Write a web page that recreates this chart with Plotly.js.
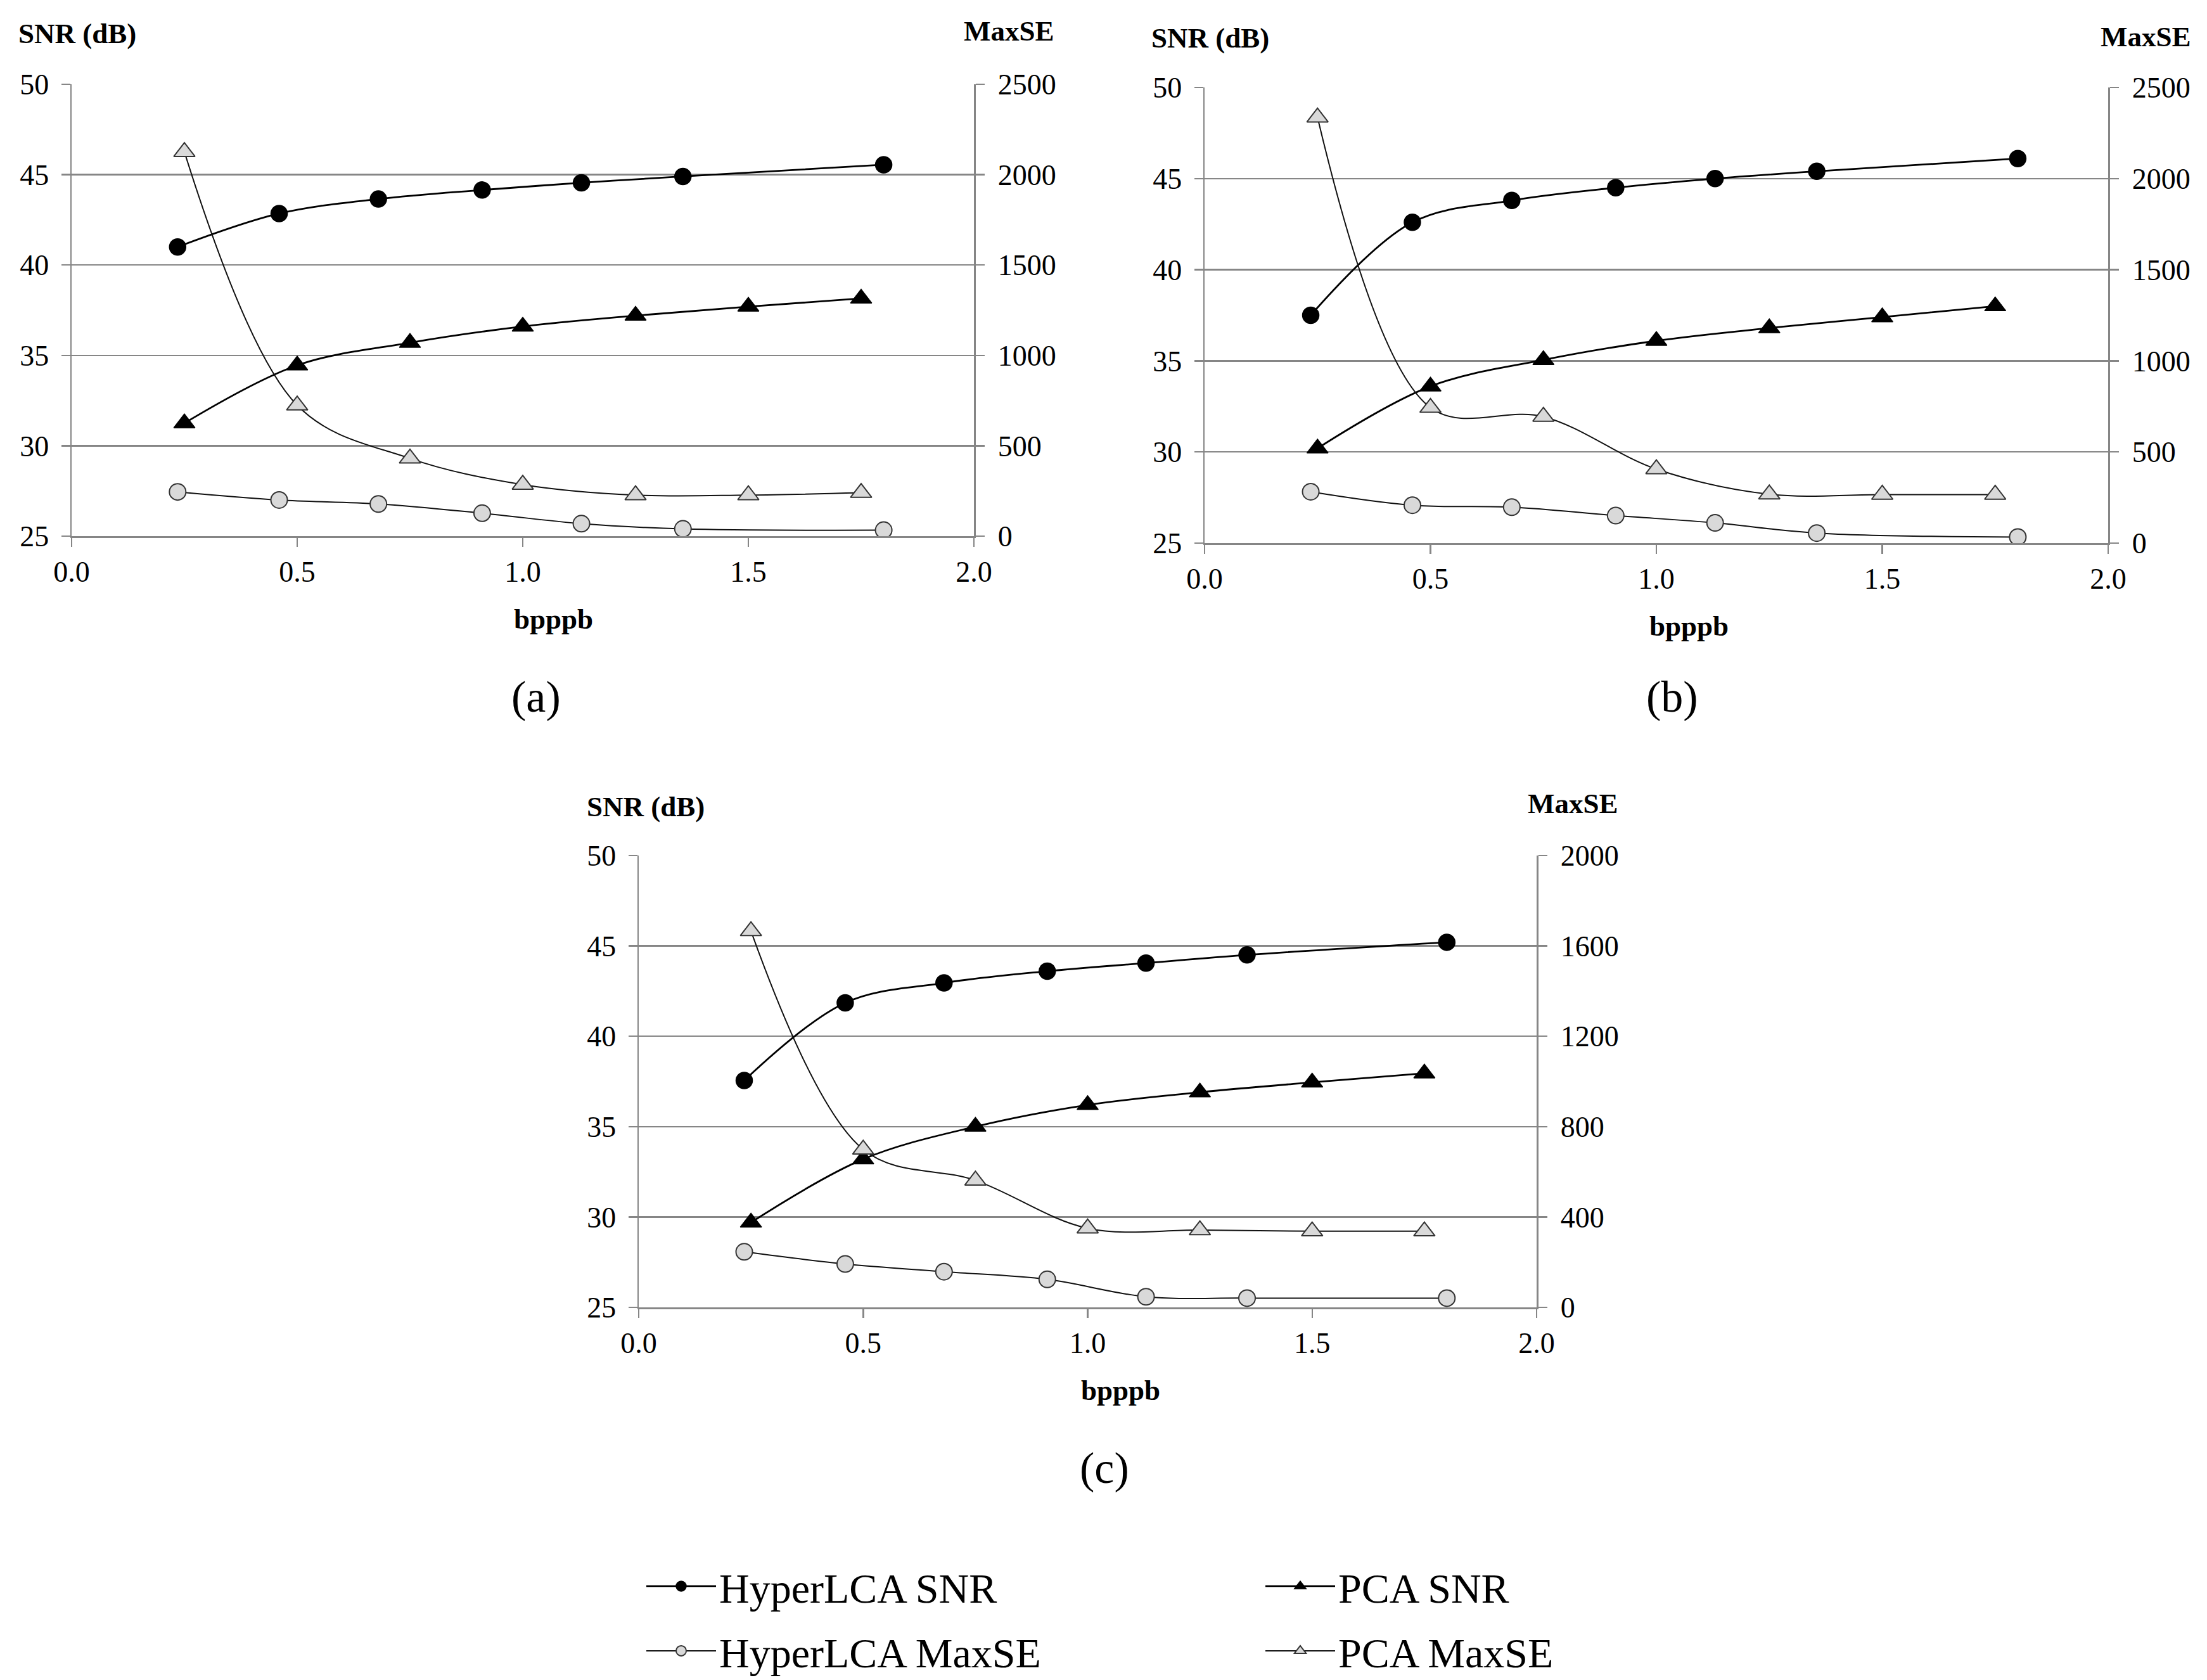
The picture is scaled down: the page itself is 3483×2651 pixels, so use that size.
<!DOCTYPE html>
<html>
<head>
<meta charset="utf-8">
<script src="https://cdn.plot.ly/plotly-3.0.1.min.js"></script>
<style>
  body { margin: 0; background: #fff; }
  #chart { width: 3483px; height: 2651px; }
</style>
</head>
<body>
<div id="chart"></div>
<script>
// bit rates (bpppb) of the two compressors
var lcaBpppb = [0.235, 0.46, 0.68, 0.91, 1.13, 1.355, 1.8];
var pcaBpppb = [0.25, 0.5, 0.75, 1.0, 1.25, 1.5, 1.75];

// panel (a)
var lcaSnrA = [41.0, 42.85, 43.65, 44.15, 44.55, 44.9, 45.55];
var pcaSnrA = [31.25, 34.45, 35.7, 36.6, 37.2, 37.7, 38.15];
var lcaMaxseA = [245, 200, 178, 127, 69, 40, 33];
var pcaMaxseA = [2126, 724, 430, 285, 227, 227, 240];

// panel (b)
var lcaSnrB = [37.5, 42.6, 43.8, 44.5, 45.0, 45.4, 46.1];
var pcaSnrB = [30.2, 33.6, 35.05, 36.1, 36.8, 37.4, 38.0];
var lcaMaxseB = [282, 208, 197, 151, 111, 55, 33];
var pcaMaxseB = [2336, 743, 694, 406, 268, 266, 266];

// panel (c)
var lcaSnrC = [37.55, 41.85, 42.95, 43.6, 44.05, 44.5, 45.2];
var pcaSnrC = [29.7, 33.2, 35.0, 36.2, 36.9, 37.45, 37.95];
var lcaMaxseC = [246, 192, 158, 124, 47, 41, 41];
var pcaMaxseC = [1666, 699, 562, 350, 342, 337, 337];

var seriesNames = ['HyperLCA SNR', 'PCA SNR', 'HyperLCA MaxSE', 'PCA MaxSE'];
var xTicks = [0, 0.5, 1.0, 1.5, 2.0];
var xTickText = ['0.0', '0.5', '1.0', '1.5', '2.0'];

var W = 3483, H = 2651;
var SERIF = '"Liberation Serif", "Times New Roman", Times, serif';
var GRID = '#868686';

function px(x) { return x / W; }
function py(y) { return 1 - y / H; }

function panel(xa, ya, ya2, lcaSnr, pcaSnr, lcaMaxse, pcaMaxse, legend) {
  var sx = xa.replace('axis', ''), sy = ya.replace('axis', ''), sy2 = ya2.replace('axis', '');
  return [
    { x: lcaBpppb, y: lcaSnr, name: seriesNames[0], xaxis: sx, yaxis: sy,
      mode: 'lines+markers', line: {shape: 'spline', color: '#000', width: 2.8},
      marker: {symbol: 'circle', size: 26, color: '#000', line: {color: '#000', width: 1.5}},
      showlegend: legend, legend: 'legend' },
    { x: pcaBpppb, y: pcaSnr, name: seriesNames[1], xaxis: sx, yaxis: sy,
      mode: 'lines+markers', line: {shape: 'spline', color: '#000', width: 2.8},
      marker: {symbol: 'triangle-up', size: 29, color: '#000', line: {color: '#000', width: 1.5}},
      showlegend: legend, legend: 'legend2' },
    { x: lcaBpppb, y: lcaMaxse, name: seriesNames[2], xaxis: sx, yaxis: sy2,
      mode: 'lines+markers', line: {shape: 'spline', color: '#111', width: 2},
      marker: {symbol: 'circle', size: 26, color: '#d9d9d9', line: {color: '#333', width: 2}},
      showlegend: legend, legend: 'legend3' },
    { x: pcaBpppb, y: pcaMaxse, name: seriesNames[3], xaxis: sx, yaxis: sy2,
      mode: 'lines+markers', line: {shape: 'spline', color: '#111', width: 2},
      marker: {symbol: 'triangle-up', size: 29, color: '#d9d9d9', line: {color: '#333', width: 2}},
      showlegend: legend, legend: 'legend4' }
  ];
}

var data = []
  .concat(panel('xaxis', 'yaxis', 'yaxis2', lcaSnrA, pcaSnrA, lcaMaxseA, pcaMaxseA, true))
  .concat(panel('xaxis2', 'yaxis3', 'yaxis4', lcaSnrB, pcaSnrB, lcaMaxseB, pcaMaxseB, false))
  .concat(panel('xaxis3', 'yaxis5', 'yaxis6', lcaSnrC, pcaSnrC, lcaMaxseC, pcaMaxseC, false));

var tickFont = {family: SERIF, size: 46, color: '#000'};

function xAxis(x0, x1, anchor) {
  return {
    domain: [px(x0), px(x1)], anchor: anchor, range: [0, 2],
    tickvals: xTicks, ticktext: xTickText,
    showgrid: false, zeroline: false, showline: true, linecolor: GRID, linewidth: 2.5,
    ticks: 'outside', ticklen: 14, tickwidth: 2.5, tickcolor: GRID, tickfont: tickFont
  };
}
function yLeft(y0, y1, anchor) {
  return {
    domain: [py(y1), py(y0)], anchor: anchor, range: [25, 50], dtick: 5,
    showgrid: true, gridcolor: GRID, gridwidth: 2.5, zeroline: false,
    showline: true, linecolor: GRID, linewidth: 2.5, ticklabelstandoff: 10,
    ticks: 'outside', ticklen: 14, tickwidth: 2.5, tickcolor: GRID, tickfont: tickFont
  };
}
function yRight(overlay, anchor, max, step) {
  return {
    overlaying: overlay, anchor: anchor, side: 'right', range: [0, max], dtick: step,
    showgrid: false, zeroline: false, showline: true, linecolor: GRID, linewidth: 2.5,
    ticklabelstandoff: 12,
    ticks: 'outside', ticklen: 14, tickwidth: 2.5, tickcolor: GRID, tickfont: tickFont
  };
}

var boldFont = {family: SERIF, size: 45, color: '#000'};
var labelFont = {family: SERIF, size: 70, color: '#000'};

function note(text, x, y, xanchor, font) {
  return {text: text, xref: 'paper', yref: 'paper', x: px(x), y: py(y),
          xanchor: xanchor, yanchor: 'middle', showarrow: false, font: font};
}

var annotations = [
  note('<b>SNR (dB)</b>', 27, 53, 'left', boldFont),
  note('<b>MaxSE</b>', 1666, 49, 'right', boldFont),
  note('<b>bpppb</b>', 873, 977, 'center', boldFont),
  note('(a)', 846, 1099, 'center', labelFont),
  note('<b>SNR (dB)</b>', 1815, 60, 'left', boldFont),
  note('<b>MaxSE</b>', 3460, 58, 'right', boldFont),
  note('<b>bpppb</b>', 2665, 988, 'center', boldFont),
  note('(b)', 2639, 1099, 'center', labelFont),
  note('<b>SNR (dB)</b>', 924, 1273, 'left', boldFont),
  note('<b>MaxSE</b>', 2556, 1268, 'right', boldFont),
  note('<b>bpppb</b>', 1768, 2194, 'center', boldFont),
  note('(c)', 1743, 2316, 'center', labelFont)
];

function legendAt(x, y) {
  return {
    x: px(x), y: py(y), xanchor: 'left', yanchor: 'middle',
    orientation: 'v', itemwidth: 110, itemsizing: 'trace',
    font: {family: SERIF, size: 66, color: '#000'},
    bgcolor: 'rgba(0,0,0,0)', borderwidth: 0
  };
}

var layout = {
  width: W, height: H,
  margin: {l: 0, r: 0, t: 0, b: 0, pad: 0, autoexpand: false},
  paper_bgcolor: '#fff', plot_bgcolor: 'rgba(0,0,0,0)',
  font: {family: SERIF, color: '#000'},
  xaxis: xAxis(113, 1537, 'y'),
  yaxis: yLeft(133, 846, 'x'),
  yaxis2: yRight('y', 'x', 2500, 500),
  xaxis2: xAxis(1901, 3327, 'y3'),
  yaxis3: yLeft(138, 857, 'x2'),
  yaxis4: yRight('y3', 'x2', 2500, 500),
  xaxis3: xAxis(1008, 2425, 'y5'),
  yaxis5: yLeft(1350, 2063, 'x3'),
  yaxis6: yRight('y5', 'x3', 2000, 400),
  annotations: annotations,
  showlegend: true,
  legend: legendAt(1015, 2503),
  legend2: legendAt(1992, 2503),
  legend3: legendAt(1015, 2605),
  legend4: legendAt(1992, 2605)
};

Plotly.newPlot('chart', data, layout, {displayModeBar: false, staticPlot: true});
</script>
</body>
</html>
